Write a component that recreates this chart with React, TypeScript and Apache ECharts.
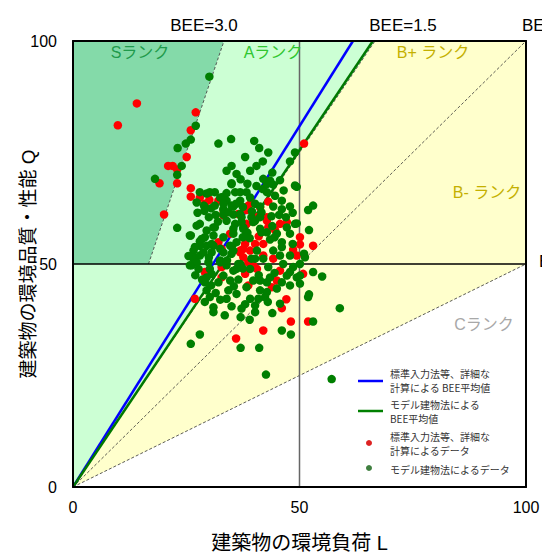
import React, { useEffect, useRef } from "react";
import * as echarts from "echarts";

// Axis ticks
const xTicks = [0, 50, 100];
const yTicks = [0, 50, 100];

// Rank regions (L, Q)
const regionS = [[0, 50], [16.67, 50], [33.33, 100], [0, 100]];
const regionA = [[0, 0], [0, 50], [16.67, 50], [33.33, 100], [66.67, 100]];
const regionB = [[0, 0], [66.67, 100], [100, 100], [100, 50]];
const regionColors = ["#84daa9", "#ccffd4", "#ffffcc"];

// Boundary lines
const lineBEE30 = [[16.67, 50], [33.33, 100]];
const lineBEE15 = [[0, 0], [66.67, 100]];
const lineBEE10 = [[0, 0], [100, 100]];
const lineBEE05 = [[0, 0], [100, 50]];
const lineL50 = [[50, 0], [50, 100]];
const lineQ50 = [[0, 50], [100, 50]];

// Average BEE lines
const avgDetailed = [[0, 0], [61.8, 100]];
const avgModel = [[0, 0], [66.2, 100]];

// Legend lines
const legendEntries = [
  ["標準入力法等、詳細な", "計算による BEE平均値"],
  ["モデル建物法による", "BEE平均値"],
  ["標準入力法等、詳細な", "計算によるデータ"],
  ["モデル建物法によるデータ"],
];

// Data points (L, Q)
const redData = [
  [14.1, 86.0], [9.9, 81.1], [27.1, 84.0], [26.0, 80.0], [25.1, 74.0], [21.0, 72.0],
  [22.0, 72.0], [23.0, 71.2], [19.1, 68.1], [23.0, 68.1], [26.0, 67.0], [26.0, 65.1],
  [28.0, 64.9], [30.1, 64.4], [32.1, 64.2], [51.0, 77.0], [33.2, 62.1], [38.3, 62.1],
  [39.4, 63.8], [43.1, 64.0], [20.1, 61.1], [33.2, 60.9], [36.5, 61.2], [38.3, 59.0],
  [42.8, 60.5], [43.1, 58.2], [45.7, 59.0], [47.2, 59.4], [50.1, 56.0], [50.1, 54.4],
  [53.0, 54.1], [49.4, 51.9], [42.0, 54.5], [40.2, 54.5], [38.0, 54.5], [36.9, 53.0],
  [39.1, 53.0], [37.6, 51.5], [29.1, 48.2], [39.8, 49.7], [40.6, 48.9], [44.2, 51.2],
  [45.7, 48.5], [45.0, 46.3], [43.9, 44.8], [38.0, 47.8], [32.8, 47.0], [26.9, 42.2],
  [38.7, 45.2], [47.1, 42.1], [50.8, 47.8], [46.1, 40.1], [48.1, 37.1], [51.9, 37.1],
  [42.0, 35.1], [36.0, 33.3], [29.1, 63.5], [38.7, 63.1], [41.3, 62.7], [40.6, 60.5],
  [42.8, 59.7], [32.1, 54.9], [32.8, 53.4], [37.6, 53.4], [36.9, 52.6], [42.0, 51.9],
  [38.7, 50.4], [32.8, 49.3], [34.7, 56.8], [44.6, 57.6], [48.6, 53.2], [41.0, 56.2]
];

const greenData = [
  [30.1, 92.0], [27.1, 81.0], [26.0, 77.9], [24.9, 77.0], [32.1, 77.0], [34.9, 78.0],
  [23.1, 76.0], [24.0, 72.0], [23.0, 70.0], [18.1, 69.1], [28.0, 66.1], [30.2, 66.1],
  [31.3, 66.1], [33.9, 70.9], [33.0, 65.0], [40.0, 77.6], [41.1, 76.0], [43.1, 75.0],
  [49.0, 75.0], [47.9, 73.0], [41.9, 73.0], [35.0, 72.0], [36.1, 70.2], [39.1, 70.9],
  [35.0, 68.1], [42.0, 69.1], [43.5, 68.7], [44.2, 67.8], [45.7, 68.8], [49.0, 67.6],
  [41.9, 66.8], [33.9, 65.9], [35.8, 66.1], [36.9, 66.1], [38.3, 66.1], [33.9, 64.2],
  [33.2, 62.3], [33.2, 61.1], [35.4, 62.9], [35.4, 61.1], [36.9, 64.2], [40.2, 63.5],
  [41.3, 62.9], [42.8, 66.1], [44.6, 65.3], [44.2, 62.9], [46.1, 64.2], [47.9, 62.9],
  [46.1, 62.3], [51.9, 62.1], [41.3, 60.5], [39.4, 60.5], [37.2, 60.5], [28.0, 59.0],
  [26.0, 56.4], [31.0, 58.2], [31.0, 56.4], [29.1, 56.0], [35.8, 59.0], [37.6, 58.2],
  [40.2, 59.7], [41.6, 57.1], [45.0, 56.8], [47.2, 58.2], [49.0, 59.0], [47.9, 56.8],
  [46.1, 54.9], [46.1, 53.8], [44.2, 53.0], [40.6, 53.0], [36.1, 54.9], [34.7, 54.1],
  [35.0, 52.3], [32.5, 53.4], [31.0, 54.1], [29.5, 54.1], [28.0, 54.1], [26.6, 53.0],
  [26.6, 51.2], [28.0, 51.9], [26.2, 49.7], [27.7, 48.9], [30.6, 47.8], [32.5, 50.4],
  [33.9, 49.7], [36.5, 50.0], [39.4, 51.2], [42.0, 51.2], [43.1, 49.3], [45.7, 51.9],
  [46.4, 50.0], [47.9, 51.9], [48.6, 49.3], [50.1, 50.0], [51.0, 52.3], [51.2, 51.5],
  [47.9, 48.2], [47.2, 47.4], [46.1, 45.9], [43.5, 47.0], [42.8, 45.9], [49.4, 47.0],
  [50.1, 47.4], [41.3, 46.3], [39.8, 46.3], [35.4, 48.5], [34.7, 46.3], [33.2, 47.4],
  [32.1, 45.9], [29.5, 47.0], [29.1, 45.9], [29.5, 44.1], [30.2, 42.6], [29.1, 41.5],
  [31.0, 40.3], [34.3, 44.1], [33.9, 42.2], [36.1, 43.3], [38.3, 44.8], [41.3, 44.1],
  [42.8, 43.7], [42.4, 42.6], [40.9, 42.2], [39.1, 42.2], [40.2, 40.7], [45.7, 41.1],
  [47.9, 45.2], [50.1, 45.6], [51.9, 42.6], [58.9, 40.1], [53.0, 37.1], [46.1, 35.1],
  [48.1, 34.2], [28.0, 34.2], [26.0, 32.1], [37.0, 31.2], [41.1, 31.2], [42.6, 25.2],
  [57.1, 24.2], [37.0, 38.1], [40.2, 39.2], [31.0, 39.2], [37.2, 40.0], [49.4, 67.3],
  [53.0, 63.1], [49.4, 59.1], [52.1, 57.6], [53.0, 48.2], [55.0, 47.2], [52.1, 43.2],
  [29.5, 65.8], [28.9, 63.1], [23.0, 58.1], [28.0, 55.1], [35.0, 67.9], [32.5, 64.9],
  [42.8, 67.9], [27.3, 63.8], [31.3, 63.1], [33.2, 63.5], [35.0, 63.1], [34.3, 61.6],
  [33.9, 59.7], [36.9, 61.2], [37.2, 59.4], [37.6, 57.9], [41.6, 61.6], [39.8, 59.4],
  [41.3, 57.9], [42.8, 57.1], [35.4, 57.9], [35.4, 56.8], [33.2, 56.0], [31.3, 58.2],
  [29.5, 57.5], [27.3, 58.6], [25.8, 56.4], [28.4, 55.6], [26.9, 53.8], [30.6, 54.5],
  [26.6, 51.5], [28.8, 52.6], [30.6, 52.6], [33.2, 52.6], [35.4, 53.0], [36.9, 50.0],
  [40.2, 51.2], [27.3, 50.4], [25.8, 49.7], [29.9, 50.4], [32.5, 50.8], [30.2, 48.9],
  [36.1, 48.9], [39.1, 48.9], [39.1, 64.9],
  [27.5, 61.5], [30.0, 60.5], [29.0, 61.9], [31.5, 61.0], [32.0, 59.5], [30.5, 62.5],
  [38.5, 57.0], [39.0, 55.8], [43.5, 55.5], [44.0, 58.5], [45.5, 61.0], [48.5, 61.5],
  [47.0, 60.5], [43.8, 60.7], [39.5, 61.8], [36.0, 63.5], [37.5, 62.8], [25.5, 51.8],
  [27.0, 47.5], [28.5, 46.5], [30.5, 45.2], [31.5, 43.5], [32.5, 42.0], [35.5, 45.0],
  [36.5, 46.5], [37.5, 49.0], [41.0, 47.5], [44.5, 48.0], [45.0, 44.5], [43.0, 41.5],
  [38.0, 41.0], [35.0, 40.5], [33.5, 38.5], [39.0, 37.5], [44.0, 39.0], [30.0, 51.5],
  [34.0, 50.8], [44.5, 56.0], [48.5, 54.5], [37.5, 56.0], [38.5, 68.0], [40.5, 67.5],
  [37.0, 69.0], [46.5, 66.5], [44.0, 70.5], [40.5, 72.0], [38.0, 74.0]
];

const FONT = "'Liberation Sans', 'Noto Sans CJK JP', sans-serif";
const JP = "'Noto Sans CJK JP', sans-serif";

function thinLine(data: number[][], color: string, width: number, type: any) {
  return {
    type: "line",
    data,
    symbol: "none",
    silent: true,
    z: 3,
    lineStyle: { color, width, type },
  };
}

function frameAxis(kind: "x" | "y", position: string, showLabels: boolean, ticks: number[]) {
  return {
    type: "value",
    position,
    min: ticks[0],
    max: ticks[ticks.length - 1],
    interval: ticks[1] - ticks[0],
    z: 10,
    axisLine: { show: true, onZero: false, lineStyle: { color: "#000", width: 2 } },
    axisTick: { show: false },
    splitLine: { show: false },
    axisLabel: {
      show: showLabels,
      fontSize: 16,
      color: "#000",
      fontFamily: FONT,
      margin: kind === "x" ? 12 : 16,
      showMinLabel: true,
      showMaxLabel: true,
    },
  };
}

export default function App() {
  const ref = useRef<HTMLDivElement>(null);
  useEffect(() => {
    if (!ref.current) return;
    const chart = echarts.init(ref.current, null, { renderer: "svg" });
    const regions = [regionS, regionA, regionB];
    const xBottom: any = frameAxis("x", "bottom", true, xTicks);
    xBottom.name = "建築物の環境負荷 L";
    xBottom.nameLocation = "middle";
    xBottom.nameGap = 46;
    xBottom.nameMoveOverlap = false;
    xBottom.nameTextStyle = { fontSize: 20, color: "#000", fontFamily: FONT };
    const yLeft: any = frameAxis("y", "left", true, yTicks);
    yLeft.name = "建築物の環境品質・性能 Q";
    yLeft.nameLocation = "middle";
    yLeft.nameRotate = 90;
    yLeft.nameGap = 35;
    yLeft.nameMoveOverlap = false;
    yLeft.nameTextStyle = { fontSize: 19, color: "#000", fontFamily: FONT };

    const legendText = (x: number, y: number, t: string) => ({
      type: "text",
      x,
      y,
      z: 100,
      style: { text: t, fontSize: 10, fill: "#333", fontFamily: JP, align: "left", verticalAlign: "middle" },
    });
    const label = (x: number, y: number, t: string, fill: string, align = "center", size = 16) => ({
      type: "text",
      x,
      y,
      z: 100,
      style: { text: t, fontSize: size, fill, fontFamily: FONT, align, verticalAlign: "middle" },
    });

    const legendRowsY = [[373, 387], [404, 418], [436, 450], [469]];
    const legendTexts: any[] = [];
    legendEntries.forEach((lines, i) => {
      lines.forEach((t, j) => legendTexts.push(legendText(390, legendRowsY[i][j], t)));
    });

    chart.setOption({
      animation: false,
      grid: { left: 73, right: 16, top: 41, bottom: 67, containLabel: false, outerBoundsMode: "none" },
      xAxis: [xBottom, frameAxis("x", "top", false, xTicks)],
      yAxis: [yLeft, frameAxis("y", "right", false, yTicks)],
      series: [
        {
          type: "custom",
          silent: true,
          z: 1,
          data: regions.map((_, i) => [i, 0]),
          renderItem: (params: any, api: any) => {
            const poly = regions[params.dataIndex];
            return {
              type: "polygon",
              shape: { points: poly.map((p) => api.coord(p)) },
              style: { fill: regionColors[params.dataIndex], stroke: "none" },
            };
          },
        },
        thinLine(lineBEE30, "#333", 0.8, [3, 2]),
        thinLine(lineBEE15, "#333", 0.8, [3, 2]),
        thinLine(lineBEE10, "#333", 0.8, [3, 2]),
        thinLine(lineBEE05, "#333", 0.8, [3, 2]),
        thinLine(lineL50, "#666", 1.5, "solid"),
        thinLine(lineQ50, "#000", 1.5, "solid"),
        {
          type: "line",
          name: "標準入力法等、詳細な計算によるBEE平均値",
          data: avgDetailed,
          symbol: "none",
          z: 4,
          lineStyle: { color: "#0000ff", width: 2.5 },
        },
        {
          type: "line",
          name: "モデル建物法によるBEE平均値",
          data: avgModel,
          symbol: "none",
          z: 4,
          lineStyle: { color: "#007800", width: 2.5 },
        },
        {
          type: "scatter",
          name: "標準入力法等、詳細な計算によるデータ",
          data: redData,
          symbol: "circle",
          symbolSize: 8.5,
          z: 5,
          itemStyle: { color: "#ff0000", opacity: 1 },
        },
        {
          type: "scatter",
          name: "モデル建物法によるデータ",
          data: greenData,
          symbol: "circle",
          symbolSize: 8.5,
          z: 6,
          itemStyle: { color: "#007f00", opacity: 1 },
        },
      ],
      graphic: [
        label(204, 25, "BEE=3.0", "#000", "center", 17),
        label(403, 25, "BEE=1.5", "#000", "center", 17),
        label(522, 25, "BEE=1.0", "#000", "left", 17),
        label(539, 261, "BEE=0.5", "#000", "left", 17),
        label(140, 52, "Sランク", "#1f9a4c"),
        label(273, 52, "Aランク", "#2fc62f"),
        label(433, 52, "B+ ランク", "#c4b000"),
        label(487, 192, "B- ランク", "#c4b000"),
        label(484, 324, "Cランク", "#a8a8a8"),
        { type: "line", z: 100, shape: { x1: 358, y1: 381, x2: 383, y2: 381 }, style: { stroke: "#0000ff", lineWidth: 2.5 } },
        { type: "line", z: 100, shape: { x1: 358, y1: 411, x2: 383, y2: 411 }, style: { stroke: "#008000", lineWidth: 2.5 } },
        { type: "circle", z: 100, shape: { cx: 369, cy: 443, r: 3 }, style: { fill: "#dd2222" } },
        { type: "circle", z: 100, shape: { cx: 369, cy: 468, r: 3 }, style: { fill: "#3f7f3f" } },
        ...legendTexts,
      ],
    });
    return () => chart.dispose();
  }, []);
  return <div ref={ref} style={{ position: "absolute", left: 0, top: 0, width: 542, height: 554 }} />;
}
